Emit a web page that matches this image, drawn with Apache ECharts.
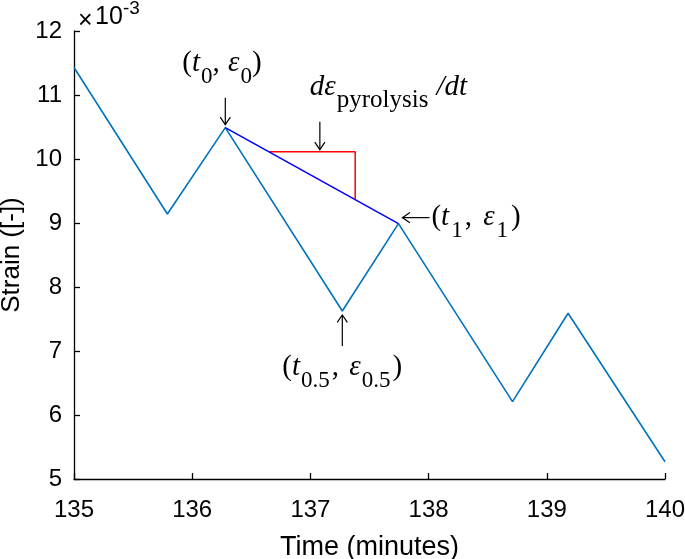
<!DOCTYPE html>
<html><head><meta charset="utf-8">
<script src="https://cdn.jsdelivr.net/npm/echarts@6/dist/echarts.min.js"></script>
<style>html,body{margin:0;padding:0;background:#fff}#c{width:685px;height:559px}</style>
</head><body><div id="c"></div>
<script>
// ---- data (strain in units of 1e-3) ----
const timeMin  = [135.00, 135.79, 136.28, 137.27, 137.745, 138.71, 139.18, 140.00];
const strainE3 = [11.43, 9.14, 10.49, 7.625, 8.99, 6.21, 7.59, 5.27];
const chordT = [136.28, 137.745];
const chordE = [10.49, 8.99];
const slopeT = [136.654, 137.379, 137.379];
const slopeE = [10.115, 10.115, 9.365];
const xMin = 135, xMax = 140, xStep = 1;
const yMin = 5, yMax = 12, yStep = 1;
const slopeArrowT = 137.08;

const chart = echarts.init(document.getElementById('c'), null, {renderer:'canvas'});
const sans = '"Liberation Sans", Arial, Helvetica, sans-serif';
const serif = '"Liberation Serif", "Times New Roman", serif';

const zip = (a,b) => a.map((v,i)=>[v,b[i]]);

chart.setOption({
  animation:false,
  backgroundColor:'#fff',
  grid:{left:74, right:20, top:31, bottom:80, containLabel:false, outerBoundsMode:'none'},
  xAxis:{type:'value', min:xMin, max:xMax, interval:xStep,
    name:'Time (minutes)', nameLocation:'middle', nameGap:55,
    nameTextStyle:{fontFamily:sans, fontSize:27, color:'#000'},
    axisLine:{onZero:false, lineStyle:{color:'#000', width:1.3}},
    axisTick:{inside:true, length:6, lineStyle:{color:'#000', width:1.3}},
    axisLabel:{fontFamily:sans, fontSize:24, color:'#000', margin:19},
    splitLine:{show:false}},
  yAxis:{type:'value', min:yMin, max:yMax, interval:yStep,
    name:'Strain ([-])', nameLocation:'middle', nameGap:38,
    nameTextStyle:{fontFamily:sans, fontSize:26, color:'#000'},
    axisLine:{show:true, onZero:false, lineStyle:{color:'#000', width:1.3}},
    axisTick:{show:true, inside:true, length:6, lineStyle:{color:'#000', width:1.3}},
    axisLabel:{fontFamily:sans, fontSize:24, color:'#000', margin:12},
    splitLine:{show:false}},
  series:[
    {type:'line', data:zip(timeMin,strainE3), showSymbol:false, lineStyle:{color:'#0072BD', width:1.6}, z:2},
    {type:'line', data:zip(slopeT,slopeE), showSymbol:false, lineStyle:{color:'#FF0000', width:1.5}, z:3},
    {type:'line', data:zip(chordT,chordE), showSymbol:false, lineStyle:{color:'#0000FF', width:1.6}, z:4}
  ]
});

// ---- annotations ----
const mctx = document.createElement('canvas').getContext('2d');
function fontStr(r){ return (r.it?'italic ':'') + r.s + 'px ' + serif; }
const els = [];
function txt(x, y, text, size, italic, family){
  els.push({type:'text', x:x, y:y, silent:true, z:10,
    style:{text:text, fill:'#000', fontSize:size, fontFamily:family||serif,
      fontStyle: italic?'italic':'normal', align:'left', verticalAlign:'middle',
      textAlign:'left', textVerticalAlign:'middle'}});
}
function runs(x0, base, list){
  let x = x0;
  list.forEach(r=>{
    mctx.font = fontStr(r);
    const w = mctx.measureText(r.t).width;
    const b = base + (r.sub ? 12 : 0);
    txt(x, b - 0.33*r.s, r.t, r.s, r.it);
    x += w + (r.g||0);
  });
}
function arrow(x1,y1,x2,y2){
  const ang = Math.atan2(y2-y1, x2-x1), L = 9, W = 0.6;
  els.push({type:'line', silent:true, z:10, shape:{x1,y1,x2,y2}, style:{stroke:'#000', lineWidth:1.2}});
  els.push({type:'polyline', silent:true, z:10, shape:{points:[
    [x2 - L*Math.cos(ang-W), y2 - L*Math.sin(ang-W)], [x2,y2],
    [x2 - L*Math.cos(ang+W), y2 - L*Math.sin(ang+W)]]}, style:{stroke:'#000', lineWidth:1.2, fill:null}});
}
const M = 29, S = 23;
const px = (t,e) => chart.convertToPixel({gridIndex:0}, [t,e]);

const p0 = px(timeMin[2], strainE3[2]);
arrow(p0[0], p0[1]-30, p0[0], p0[1]-3);
runs(p0[0]-43, p0[1]-55, [{t:'(',s:M},{t:'t',s:M,it:1,g:1},{t:'0',s:S,sub:1},{t:', ',s:M,g:1},{t:'ε',s:M,it:1,g:1},{t:'0',s:S,sub:1},{t:')',s:M}]);

const pa = px(slopeArrowT, slopeE[0]);
arrow(pa[0], pa[1]-30, pa[0], pa[1]-2);
runs(pa[0]-10, pa[1]-55, [{t:'d',s:M,it:1},{t:'ε',s:M,it:1,g:1},{t:'pyrolysis',s:S+2,sub:1,g:8},{t:'/',s:M,it:1},{t:'dt',s:M,it:1}]);

const p1 = px(timeMin[4], strainE3[4]);
arrow(p1[0]+31, p1[1]-6, p1[0]+4, p1[1]-6);
runs(p1[0]+33, p1[1]+3, [{t:'(',s:M},{t:'t',s:M,it:1,g:2},{t:'1',s:S,sub:1,g:2},{t:', ',s:M,g:4},{t:'ε',s:M,it:1,g:2},{t:'1',s:S,sub:1,g:3},{t:')',s:M}]);

const ph = px(timeMin[3], strainE3[3]);
arrow(ph[0], ph[1]+35, ph[0], ph[1]+4);
runs(ph[0]-60, ph[1]+66, [{t:'(',s:M},{t:'t',s:M,it:1,g:1},{t:'0.5',s:S,sub:1,g:2},{t:', ',s:M,g:3},{t:'ε',s:M,it:1,g:1},{t:'0.5',s:S,sub:1,g:2},{t:')',s:M}]);

// axis exponent
txt(78, 21, '×', 25, false, sans);
txt(95, 25 - 0.33*25, '10', 25, false, sans);
txt(123, 15 - 0.33*19, '-3', 19, false, sans);

chart.setOption({graphic:{elements:els}});
</script></body></html>
